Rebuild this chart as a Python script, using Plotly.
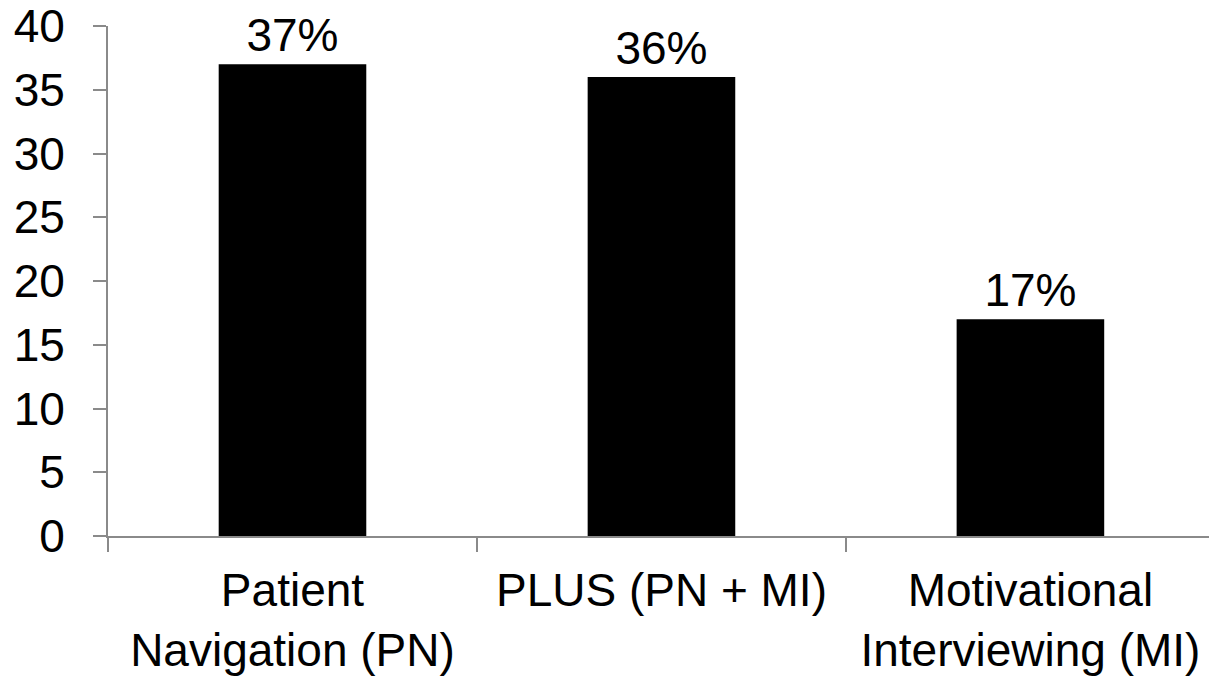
import plotly.graph_objects as go

# Share of participants by intervention arm
categories = ["Patient<br>Navigation (PN)", "PLUS (PN + MI)", "Motivational<br>Interviewing (MI)"]
values = [37, 36, 17]
value_labels = ["37%", "36%", "17%"]
y_ticks = [0, 5, 10, 15, 20, 25, 30, 35, 40]

FONT = "Liberation Sans, Arial, sans-serif"
AXIS_GREY = "#8a8a8a"

fig = go.Figure(
    go.Bar(
        x=categories,
        y=values,
        width=0.4,
        marker=dict(color="#000000", line=dict(width=0)),
        text=value_labels,
        textposition="outside",
        textfont=dict(family=FONT, size=46, color="#000000"),
        cliponaxis=False,
    )
)

fig.update_layout(
    width=1209,
    height=676,
    margin=dict(l=108, r=0, t=25, b=139),
    paper_bgcolor="white",
    plot_bgcolor="white",
    showlegend=False,
    font=dict(family=FONT, size=46, color="#000000"),
)

fig.update_xaxes(
    type="category",
    range=[-0.5, 2.484],
    tickson="boundaries",
    ticks="outside",
    ticklen=14,
    tickwidth=2,
    tickcolor=AXIS_GREY,
    showline=True,
    linecolor=AXIS_GREY,
    linewidth=2,
    showgrid=False,
    zeroline=False,
    ticklabelstandoff=13,
    tickfont=dict(family=FONT, size=46, color="#000000"),
    fixedrange=True,
)

fig.update_yaxes(
    range=[0, 40.001],
    tickvals=y_ticks,
    ticks="outside",
    ticklen=13,
    tickwidth=2,
    tickcolor=AXIS_GREY,
    showline=True,
    linecolor=AXIS_GREY,
    linewidth=2,
    showgrid=False,
    zeroline=False,
    ticklabelstandoff=19,
    ticklabeloverflow="allow",
    tickfont=dict(family=FONT, size=46, color="#000000"),
    fixedrange=True,
)

fig.write_html("out.html", config={"displayModeBar": False})
